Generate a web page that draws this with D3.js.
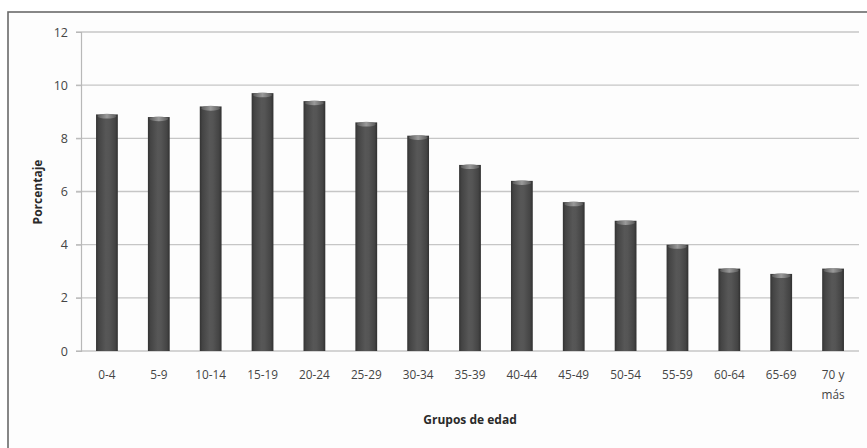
<!DOCTYPE html>
<html><head><meta charset="utf-8">
<script src="https://cdn.jsdelivr.net/npm/d3@7"></script>
<style>body{margin:0;background:#fff}svg{display:block}</style>
</head><body>
<script>
const categories = ["0-4","5-9","10-14","15-19","20-24","25-29","30-34","35-39","40-44","45-49","50-54","55-59","60-64","65-69","70 y más"];
const values = [8.9,8.8,9.2,9.7,9.4,8.6,8.1,7.0,6.4,5.6,4.9,4.0,3.1,2.9,3.1];
const yTicks = [0,2,4,6,8,10,12];
const xTitle = "Grupos de edad";
const yTitle = "Porcentaje";

(function(){
const W = 867, H = 448;
const svg = d3.select("body").append("svg").attr("width", W).attr("height", H);
const defs = svg.append("defs");
const g1 = defs.append("linearGradient").attr("id","barGrad").attr("x1","0").attr("x2","1").attr("y1","0").attr("y2","0");
[["0%","#333"],["12%","#444"],["45%","#575757"],["60%","#555"],["88%","#444"],["100%","#303030"]]
  .forEach(([o,c]) => g1.append("stop").attr("offset",o).attr("stop-color",c));
const g2 = defs.append("linearGradient").attr("id","capGrad").attr("x1","0").attr("x2","1");
[["0%","#5a5a5a"],["50%","#9a9a9a"],["100%","#5a5a5a"]].forEach(([o,c]) => g2.append("stop").attr("offset",o).attr("stop-color",c));

// frame
svg.append("rect").attr("x",8).attr("y",12).attr("width",W).attr("height",H).attr("fill","#fdfdfd")
  .attr("stroke","#6a6a6a").attr("stroke-width",1.6);

const mL = 81, mR = 859, mT = 32, mB = 351;
const x = d3.scaleBand().domain(categories).range([mL, mR]).paddingInner(0.58).paddingOuter(0.29);
const y = d3.scaleLinear().domain([0,12]).range([mB, mT]);

// gridlines
svg.append("g").selectAll("line").data(yTicks).join("line")
  .attr("x1", mL - 5).attr("x2", mR).attr("y1", d => y(d)).attr("y2", d => y(d))
  .attr("stroke", "#c6c6c6").attr("stroke-width", 1.4);

// y axis
const ya = svg.append("g").attr("transform", `translate(${mL},0)`)
  .call(d3.axisLeft(y).tickValues(yTicks).tickSize(5).tickPadding(8));
ya.select(".domain").attr("stroke","#b8b8b8").attr("stroke-width",1.2);
ya.selectAll(".tick line").attr("stroke","#b8b8b8");
ya.selectAll("text").attr("font-family","'Open Sans', sans-serif").attr("font-size",12.5).attr("fill","#454545");

// bars
const bars = svg.append("g").selectAll("g").data(values).join("g");
bars.append("rect")
  .attr("x", (d,i) => x(categories[i])).attr("width", x.bandwidth())
  .attr("y", d => y(d)).attr("height", d => y(0) - y(d))
  .attr("fill", "url(#barGrad)");
bars.append("ellipse")
  .attr("cx", (d,i) => x(categories[i]) + x.bandwidth()/2).attr("cy", d => y(d) + 1.8)
  .attr("rx", x.bandwidth()/2 - 1.5).attr("ry", 2.4)
  .attr("fill", "url(#capGrad)");

// x axis
const xa = svg.append("g").attr("transform", `translate(0,${mB})`)
  .call(d3.axisBottom(x).tickSize(0).tickPadding(14).tickFormat(""));
xa.select(".domain").remove();
xa.selectAll(".tick").each(function(d){
  const t = d3.select(this).append("text").attr("fill","#454545")
    .attr("font-family","'Open Sans', sans-serif").attr("font-size",11.8).attr("text-anchor","middle");
  const parts = d === "70 y más" ? ["70 y","más"] : [d];
  parts.forEach((p,k) => t.append("tspan").attr("x",0).attr("y", 28 + k*20).text(p));
});

// titles
svg.append("text").attr("x",(mL+mR)/2).attr("y",424).attr("text-anchor","middle")
  .attr("font-family","'Open Sans', sans-serif").attr("font-weight","bold").attr("font-size",12).attr("fill","#2a2a2a")
  .text(xTitle);
svg.append("text").attr("transform","translate(42,192) rotate(-90)").attr("text-anchor","middle")
  .attr("font-family","'Open Sans', sans-serif").attr("font-weight","bold").attr("font-size",12).attr("fill","#2a2a2a")
  .text(yTitle);
})();
</script>
</body></html>
